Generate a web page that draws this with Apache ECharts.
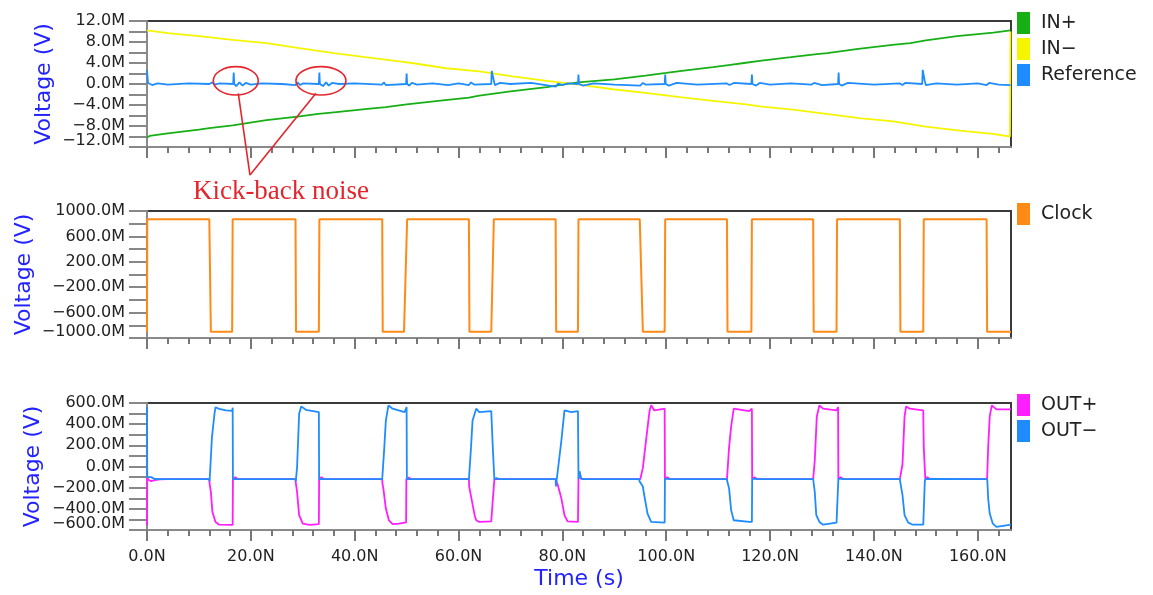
<!DOCTYPE html>
<html><head><meta charset="utf-8">
<script src="https://cdn.jsdelivr.net/npm/echarts@6/dist/echarts.min.js"></script>
<style>html,body{margin:0;padding:0;background:#fff}#c{width:1153px;height:595px}</style>
</head><body><div id="c"></div><script>
// ---------- data (time in ns, voltage in mV / "M") ----------
const xMax = 166.4;
const xMajorTicks = [0, 20, 40, 60, 80, 100, 120, 140, 160];
const xMinorTicks = [4, 8, 12, 16, 24, 28, 32, 36, 44, 48, 52, 56, 64, 68, 72, 76, 84, 88, 92, 96, 104, 108, 112, 116, 124, 128, 132, 136, 144, 148, 152, 156, 164];

const topYTicks = [-12, -10, -8, -6, -4, -2, 0, 2, 4, 6, 8, 10, 12];
const topYLabels = [-12, -8, -4, 0, 4, 8, 12];
const midYTicks = [-1000, -800, -600, -400, -200, 0, 200, 400, 600, 800, 1000];
const midYLabels = [-1000, -600, -200, 200, 600, 1000];
const botYTicks = [-600, -500, -400, -300, -200, -100, 0, 100, 200, 300, 400, 500, 600];
const botYLabels = [-600, -400, -200, 0, 200, 400, 600];

const inPlus = [[0,-10.2],[0.5,-9.9],[4,-9.4],[10,-8.7],[12,-8.4],[16.5,-7.9],[23,-6.9],[29,-6.2],[33,-5.7],[36,-5.4],[42,-4.8],[46,-4.4],[50,-3.9],[57,-3.1],[62,-2.6],[64,-2.2],[70,-1.4],[77,-0.6],[80,-0.1],[83,0.3],[90,0.9],[96,1.6],[100,2.1],[103,2.5],[109,3.2],[112,3.6],[115,4.0],[118,4.4],[124,5.1],[129,5.7],[131,5.9],[137,6.7],[144,7.5],[147,7.8],[150,8.3],[156,9.1],[159,9.4],[163,9.8],[166.3,10.2]];
const inMinus = [[0,10.2],[4,9.7],[10,9.1],[16.5,8.4],[23,7.8],[29,6.9],[36,5.9],[42,5.1],[48.6,4.3],[51,4.0],[57.6,3.0],[64,2.4],[70.4,1.45],[77,0.6],[83.3,-0.1],[89.7,-1.0],[96,-1.7],[102.6,-2.5],[109,-3.2],[115.4,-3.9],[118,-4.25],[124.4,-4.9],[130.8,-5.7],[137.2,-6.5],[143.7,-7.1],[150,-8.1],[156.5,-8.9],[162.9,-9.5],[166.2,-10.0],[166.3,10.0]];
const reference = [[0,2.6],[0.2,0.2],[1,-0.2],[2,0.1],[4,-0.1],[8,0.1],[12,0.0],[12.2,-0.3],[12.6,0.3],[13,-0.1],[14,0.1],[16.6,0.0],[16.7,2.2],[16.8,0.0],[17.2,-0.4],[17.8,0.3],[18.4,-0.3],[19,0.2],[20,-0.1],[22,0.1],[26,0.0],[28.6,-0.2],[29,0.3],[29.5,-0.2],[30,0.1],[33.1,0.0],[33.2,2.2],[33.3,0.0],[33.9,-0.4],[34.5,0.3],[35,-0.3],[35.6,0.2],[37,0],[40,0.1],[45.3,-0.1],[45.6,0.3],[46,-0.2],[49.9,0],[50.0,2.0],[50.1,0],[50.5,-0.3],[51,0.2],[52,-0.1],[55,0.1],[58,-0.2],[60,0.1],[62,-0.2],[62.4,0.3],[63,-0.1],[66.3,0],[66.4,2.5],[66.8,0.6],[67,-0.2],[68,0.2],[70,0],[74,0.2],[78,-0.4],[78.7,-0.5],[79.2,0.1],[80,-0.2],[81,0.1],[83.0,0],[83.1,1.8],[83.2,0],[84,-0.3],[86,0.1],[90,-0.1],[95,-0.3],[95.5,0.2],[96,-0.1],[99.7,0],[99.8,1.8],[99.9,0],[100.5,-0.3],[102,0.2],[106,-0.1],[111.7,0.1],[112.2,-0.2],[113,0.2],[116.4,0],[116.5,1.8],[116.6,0],[117.3,-0.3],[118,0.2],[120,-0.1],[124,0.1],[128,-0.1],[128.5,0.2],[130,-0.2],[133.1,0],[133.2,2.2],[133.3,0],[133.8,-0.3],[135,0.2],[140,-0.1],[145,0.1],[145.5,-0.2],[146,0.2],[149.3,0],[149.4,2.7],[149.8,0.5],[150,-0.2],[152,0.1],[156,-0.1],[160,0.1],[161.7,-0.2],[162.2,0.2],[164,-0.1],[166.3,-0.2]];

const clock = [[0,-900],[0.05,870],[12.0,870],[12.3,-900],[16.4,-900],[16.5,870],[28.6,870],[28.7,-900],[33.1,-900],[33.2,870],[45.3,870],[45.4,-900],[49.5,-900],[50.1,870],[62.0,870],[62.1,-900],[66.3,-900],[66.8,870],[78.7,870],[78.8,-900],[83.0,-900],[83.1,870],[94.9,870],[95.5,-900],[99.7,-900],[99.8,870],[111.7,870],[111.8,-900],[116.4,-900],[116.5,870],[128.3,870],[128.4,-900],[132.8,-900],[132.9,870],[145.0,870],[145.1,-900],[149.5,-900],[149.6,870],[161.7,870],[161.8,-900],[166.4,-900]];

const outPlus = [[0,-556],[0.05,-108],[0.4,-130],[0.8,-138],[1.5,-128],[2.5,-122],[4,-120],
 [12.0,-120],[12.05,-160],[12.3,-240],[12.6,-430],[13.2,-525],[13.9,-550],[16.5,-552],[16.55,-120],[17.0,-102],[17.5,-120],
 [28.6,-120],[28.65,-150],[28.9,-240],[29.3,-460],[30.0,-540],[31.3,-552],[33.1,-545],[33.15,-120],[33.6,-100],[34.1,-120],
 [45.3,-120],[45.35,-165],[45.5,-200],[46.0,-397],[46.6,-510],[47.3,-545],[48.5,-540],[49.9,-528],[49.95,-120],[50.4,-105],[50.9,-120],
 [62.0,-120],[62.05,-190],[62.4,-205],[63.1,-460],[63.4,-508],[64.0,-524],[66.3,-518],[66.9,-120],[67.2,-110],[67.6,-120],
 [78.7,-120],[78.8,-125],[79.1,-172],[79.8,-301],[80.4,-460],[81.0,-518],[83.0,-524],[83.1,-120],[83.3,-60],[83.6,-115],[84,-120],
 [95.0,-120],[95.3,-125],[95.5,-13],[96.1,242],[96.8,530],[97.1,578],[97.7,530],[99.7,546],[99.75,-120],[100.2,-100],[100.7,-120],
 [111.7,-120],[111.9,-118],[112.1,178],[112.5,377],[113.0,546],[113.2,562],[116.0,523],[116.5,546],[116.55,-120],[117.0,-100],[117.5,-120],
 [128.3,-120],[128.6,51],[129.0,472],[129.5,578],[130.2,546],[132.8,530],[133.1,562],[133.15,-120],[133.6,-100],[134.1,-120],
 [145.0,-120],[145.1,-115],[145.5,19],[145.9,472],[146.2,568],[146.9,546],[149.5,530],[149.6,178],[149.9,-120],[150.3,-100],[150.8,-120],
 [161.8,-120],[162.0,178],[162.3,472],[162.7,578],[163.6,540],[166.4,540]];

const outMinus = [[0,565],[0.05,-100],[0.3,-92],[0.8,-100],[1.5,-118],[3,-120],
 [12.0,-120],[12.05,-140],[12.2,-10],[12.5,270],[13.0,500],[13.2,560],[13.9,545],[15.2,530],[16.4,525],[16.5,555],[16.55,-120],[16.9,-105],[17.4,-120],
 [28.6,-120],[28.65,-140],[28.9,-10],[29.3,498],[29.7,568],[30.6,536],[33.1,514],[33.15,-120],[33.5,-110],[34,-120],
 [45.3,-120],[45.35,-135],[45.7,178],[46.0,434],[46.5,578],[46.7,578],[47.3,546],[49.6,514],[50.0,562],[50.05,-120],[50.4,-110],[50.9,-120],
 [62.0,-120],[62.1,-130],[62.4,178],[62.7,434],[63.4,546],[64.0,514],[66.3,523],[66.6,178],[66.9,-120],[67.3,-110],[67.8,-120],
 [78.7,-120],[78.75,-189],[79.1,-45],[79.8,242],[80.4,530],[81.7,514],[83.0,523],[83.1,-120],[83.3,-45],[83.6,-115],[84,-120],
 [94.8,-120],[94.85,-140],[95.5,-189],[95.7,-253],[96.4,-445],[97.1,-524],[99.7,-530],[99.75,-120],[100.2,-115],[100.7,-120],
 [111.7,-120],[111.75,-140],[112.1,-205],[112.5,-412],[113.0,-508],[116.0,-524],[116.5,-524],[116.55,-120],[117,-115],[117.5,-120],
 [128.3,-120],[128.35,-140],[128.6,-237],[128.9,-460],[129.5,-524],[130.2,-550],[132.8,-530],[133.1,-524],[133.15,-120],[133.6,-115],[134.1,-120],
 [145.0,-120],[145.05,-140],[145.5,-269],[145.9,-460],[146.6,-530],[147.5,-550],[149.5,-550],[149.8,-140],[149.9,-120],[150.4,-118],
 [161.8,-120],[161.85,-140],[162.0,-300],[162.3,-445],[162.9,-540],[163.6,-570],[166.4,-550]];

// annotation anchors (data coords on top plot)
const kickbackMarks = [[17.1, 0.6], [33.5, 0.6]];
const kickbackText = 'Kick-back noise';

// ---------- styles ----------
const FONT = 'DejaVu Sans';
const AX_GREY = '#8a8a8a';
const LBL = '#222';
const BLUE_T = '#2323ff';
const C = { inp: '#16b016', inm: '#f5f500', ref: '#1e8cff', clk: '#ff8a16', outp: '#ff1eff', outm: '#1e8cff' };

const fmtM = v => (v < 0 ? '\u2212' : '') + Math.abs(v).toFixed(1) + 'M';
const fmtN = v => v.toFixed(1) + 'N';

const grids = [
  { left: 147, top: 21, width: 864, height: 126 },
  { left: 147, top: 211, width: 864, height: 127 },
  { left: 147, top: 403, width: 864, height: 127 }
].map(g => Object.assign(g, { show: true, borderColor: '#3a3a3a', borderWidth: 2, containLabel: false }));

function xMajor(gi, withLabels) {
  const a = {
    type: 'value', gridIndex: gi, min: 0, max: xMax, interval: 20,
    axisLine: { show: true, onZero: false, lineStyle: { color: AX_GREY, width: 2 } },
    axisTick: { show: true, customValues: xMajorTicks, length: 11, lineStyle: { color: '#777', width: 2 } },
    axisLabel: withLabels ? { show: true, customValues: xMajorTicks, formatter: fmtN, margin: 19, fontSize: 16, fontFamily: FONT, color: LBL } : { show: false },
    splitLine: { show: false }
  };
  if (withLabels) {
    a.name = 'Time (s)'; a.nameLocation = 'middle'; a.nameGap = 38; a.nameMoveOverlap = false;
    a.nameTextStyle = { color: BLUE_T, fontSize: 22, fontFamily: FONT };
  }
  return a;
}
function xMinor(gi) {
  return {
    type: 'value', gridIndex: gi, min: 0, max: xMax, interval: 4, position: 'bottom',
    axisLine: { show: false, onZero: false },
    axisTick: { show: true, customValues: xMinorTicks, length: 6, lineStyle: { color: '#777', width: 2 } },
    axisLabel: { show: false }, splitLine: { show: false }
  };
}
function yAx(gi, min, max, ticks, labels, gap) {
  return {
    type: 'value', gridIndex: gi, min: min, max: max, position: 'left',
    name: 'Voltage (V)', nameLocation: 'middle', nameGap: gap, nameMoveOverlap: false,
    nameTextStyle: { color: BLUE_T, fontSize: 22, fontFamily: FONT },
    axisLine: { show: true, onZero: false, lineStyle: { color: AX_GREY, width: 2 } },
    axisTick: { show: true, customValues: ticks, length: 18, lineStyle: { color: '#888', width: 2 } },
    axisLabel: { show: true, customValues: labels.filter(v => v !== min), formatter: fmtM, margin: 22, fontSize: 16,
      fontFamily: FONT, color: LBL },
    splitLine: { show: false }
  };
}
// separate axis carrying only the bottom label, lifted above its tick as in the original
function yMinLabel(gi, min, max) {
  return {
    type: 'value', gridIndex: gi, min: min, max: max, position: 'left',
    axisLine: { show: false, onZero: false }, axisTick: { show: false }, splitLine: { show: false },
    axisLabel: { show: true, customValues: [min], formatter: fmtM, margin: 22, fontSize: 16, fontFamily: FONT,
      color: LBL, verticalAlign: 'bottom', lineHeight: 12 }
  };
}
const line = (name, data, color, xi, yi, w) => ({
  name, type: 'line', data, xAxisIndex: xi, yAxisIndex: yi, showSymbol: false, symbol: 'none',
  lineStyle: { color, width: w || 1.8 }, itemStyle: { color }, animation: false, silent: true
});
const legend = (names, top) => ({
  orient: 'vertical', left: 1017, top, icon: 'rect', itemWidth: 13, itemHeight: 22, itemGap: 4,
  selectedMode: false, padding: 0, data: names,
  textStyle: { fontSize: 19, fontFamily: FONT, color: LBL, padding: [0, 0, 0, 6] }
});

const chart = echarts.init(document.getElementById('c'), null, { renderer: 'canvas' });
chart.setOption({
  animation: false,
  backgroundColor: '#fff',
  grid: grids,
  xAxis: [xMajor(0, false), xMinor(0), xMajor(1, false), xMinor(1), xMajor(2, true), xMinor(2)],
  yAxis: [
    yAx(0, -12, 12, topYTicks, topYLabels, 92), yAx(1, -1000, 1000, midYTicks, midYLabels, 112), yAx(2, -600, 600, botYTicks, botYLabels, 103),
    yMinLabel(0, -12, 12), yMinLabel(1, -1000, 1000), yMinLabel(2, -600, 600)
  ],
  legend: [legend(['IN+', 'IN\u2212', 'Reference'], 12), legend(['Clock'], 203), legend(['OUT+', 'OUT\u2212'], 394)],
  series: [
    line('IN+', inPlus, C.inp, 0, 0),
    line('IN\u2212', inMinus, C.inm, 0, 0),
    line('Reference', reference, C.ref, 0, 0),
    line('Clock', clock, C.clk, 2, 1, 2),
    line('OUT+', outPlus, C.outp, 4, 2),
    line('OUT\u2212', outMinus, C.outm, 4, 2)
  ]
});

// annotation
const RED = '#e3262d';
const p1 = chart.convertToPixel({ xAxisIndex: 0, yAxisIndex: 0 }, kickbackMarks[0]);
const p2 = chart.convertToPixel({ xAxisIndex: 0, yAxisIndex: 0 }, kickbackMarks[1]);
const join = [p1[0] + 14.2, p1[1] + 94.2];
chart.setOption({
  graphic: [
    { type: 'ellipse', shape: { cx: p1[0], cy: p1[1], rx: 22.5, ry: 14.2 }, style: { fill: 'none', stroke: RED, lineWidth: 1.6 }, z: 100 },
    { type: 'ellipse', shape: { cx: p2[0], cy: p2[1], rx: 25, ry: 14.2 }, style: { fill: 'none', stroke: RED, lineWidth: 1.6 }, z: 100 },
    { type: 'line', shape: { x1: p1[0] + 2.5, y1: p1[1] + 12.5, x2: join[0], y2: join[1] }, style: { stroke: RED, lineWidth: 1.6 }, z: 100 },
    { type: 'line', shape: { x1: p2[0] - 5, y1: p2[1] + 12.5, x2: join[0], y2: join[1] }, style: { stroke: RED, lineWidth: 1.6 }, z: 100 },
    { type: 'text', x: join[0] + 31, y: join[1] + 17, style: { text: kickbackText, fill: RED, font: '27px "Liberation Serif"', textAlign: 'center', textVerticalAlign: 'middle' }, z: 100 }
  ]
});
</script></body></html>
